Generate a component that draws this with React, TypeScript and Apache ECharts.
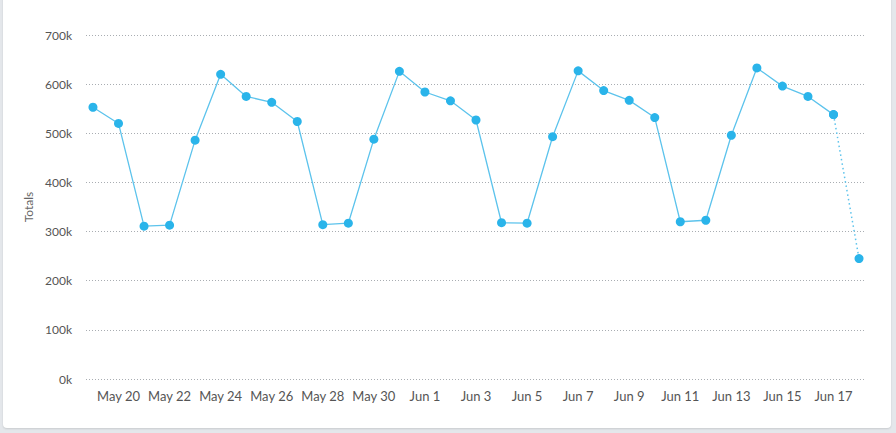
import React, { useEffect, useRef } from "react";
import * as echarts from "echarts";

const dates = [
  "May 19", "May 20", "May 21", "May 22", "May 23", "May 24", "May 25", "May 26", "May 27", "May 28",
  "May 29", "May 30", "May 31", "Jun 1", "Jun 2", "Jun 3", "Jun 4", "Jun 5", "Jun 6", "Jun 7",
  "Jun 8", "Jun 9", "Jun 10", "Jun 11", "Jun 12", "Jun 13", "Jun 14", "Jun 15", "Jun 16", "Jun 17",
  "Jun 18",
];
const totals = [
  553000, 520000, 311000, 313000, 486000, 620000, 575000, 563000, 524000, 314000,
  317000, 488000, 626000, 584000, 566000, 527000, 318000, 317000, 493000, 627000,
  587000, 567000, 532000, 320000, 323000, 496000, 633000, 596000, 575000, 538000,
  245000,
];
const labelIndices = [1, 3, 5, 7, 9, 11, 13, 15, 17, 19, 21, 23, 25, 27, 29];
const yTicks = [0, 100000, 200000, 300000, 400000, 500000, 600000, 700000];

export default function App() {
  const ref = useRef<HTMLDivElement>(null);
  useEffect(() => {
    document.body.style.margin = "0";
    if (!ref.current) return;
    const chart = echarts.init(ref.current, null, { renderer: "svg" });
    const n = totals.length;
    const solid = totals.map((v, i) => [i, i < n - 1 ? v : null]);
    const dotted = totals.map((v, i) => [i, i >= n - 2 ? v : null]);
    const font = "Lato, 'Noto Sans', sans-serif";
    chart.setOption({
      animation: false,
      grid: { left: 83, right: 25, top: 41, bottom: 49 },
      xAxis: {
        type: "value",
        min: -0.273,
        max: n - 1 + 0.273,
        axisLine: { show: false },
        axisTick: { show: false },
        splitLine: { show: false },
        axisLabel: {
          customValues: labelIndices,
          formatter: (v: number) => dates[Math.round(v)] ?? "",
          color: "#555",
          fontSize: 13,
          fontFamily: font,
          margin: 10,
        },
      },
      yAxis: {
        type: "value",
        min: 0,
        max: 700000,
        interval: 100000,
        name: "Totals",
        nameLocation: "middle",
        nameGap: 45,
        nameRotate: 90,
        nameTextStyle: { color: "#666", fontSize: 12, fontFamily: font },
        axisLine: { show: false },
        axisTick: { show: false },
        axisLabel: {
          color: "#555",
          fontSize: 12,
          fontFamily: font,
          margin: 14,
          formatter: (v: number) => (yTicks.includes(v) ? v / 1000 + "k" : ""),
        },
        splitLine: { lineStyle: { color: "#a9adb2", type: [1, 2], width: 1 } },
      },
      series: [
        {
          type: "line",
          data: solid,
          symbol: "circle",
          symbolSize: 9,
          showSymbol: true,
          connectNulls: false,
          lineStyle: { color: "#5cc3ec", width: 1.3 },
          itemStyle: { color: "#2ab4ea" },
        },
        {
          type: "line",
          data: dotted,
          symbol: "circle",
          symbolSize: 9,
          lineStyle: { color: "#5cc3ec", width: 1.5, type: [1.5, 3] },
          itemStyle: { color: "#2ab4ea" },
          z: 1,
        },
      ],
    });
    return () => chart.dispose();
  }, []);
  return (
    <div style={{ width: 896, height: 433, background: "#e4e7eb", position: "relative", overflow: "hidden" }}>
      <div
        style={{
          position: "absolute",
          left: 3,
          top: -6,
          width: 888,
          height: 434,
          background: "#fff",
          borderRadius: 4,
          boxShadow: "0 1px 2px rgba(0,0,0,0.12)",
        }}
      >
        <div ref={ref} style={{ width: 888, height: 434 }} />
      </div>
    </div>
  );
}
